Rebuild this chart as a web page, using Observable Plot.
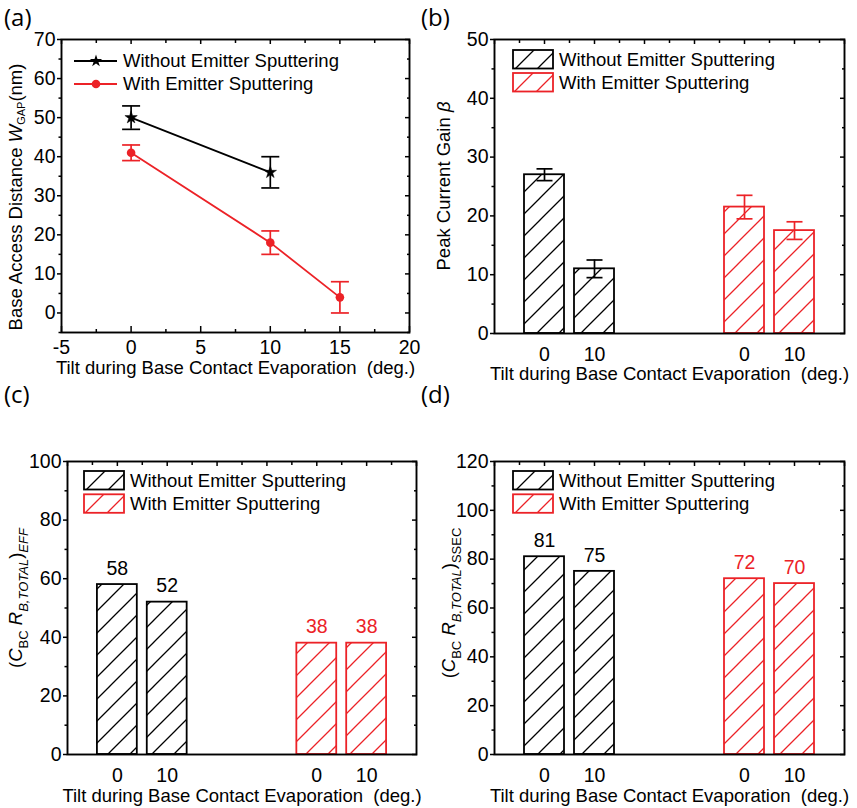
<!DOCTYPE html>
<html><head><meta charset="utf-8">
<script src="https://cdn.jsdelivr.net/npm/d3@7"></script>
<script src="https://cdn.jsdelivr.net/npm/@observablehq/plot@0.6"></script>
<style>
body{margin:0;background:#fff}
#root{position:relative;width:857px;height:808px;background:#fff;overflow:hidden}
</style></head><body><div id="root"></div>
<script>
// ---------- data ----------
const series = ["Without Emitter Sputtering", "With Emitter Sputtering"];
const seriesColors = ["#000000", "#ec2227"];
const panelLabels = ["(a)", "(b)", "(c)", "(d)"];
const xTitle = "Tilt during Base Contact Evaporation\u00a0 (deg.)";

// (a) base access distance
const tiltA_without = [0, 10];
const wgap_without = [50, 36];
const wgapErr_without = [3, 4];
const tiltA_with = [0, 10, 15];
const wgap_with = [41, 18, 4];
const wgapErr_with = [2, 3, 4];

// (b)-(d) bars
const tiltLabels = [0, 10];
const gain_without = [27, 11];
const gainErr_without = [1, 1.5];
const gain_with = [21.5, 17.5];
const gainErr_with = [2, 1.5];
const eff_without = [58, 52];
const eff_with = [38, 38];
const ssec_without = [81, 75];
const ssec_with = [72, 70];

// ---------- helpers ----------
const FONT = '"Liberation Sans", Arial, Helvetica, sans-serif';
const FS = 18.5;
const TFS = 19.5;
const root = document.getElementById("root");
function place(el, left, top) {
  el.style.position = "absolute"; el.style.left = left + "px"; el.style.top = top + "px";
  root.appendChild(el); return el;
}
const capSymbol = { draw(ctx, size) { const h = Math.sqrt(size / Math.PI); ctx.moveTo(-h, 0); ctx.lineTo(h, 0); } };
const none = () => "";

function frameAxes({xMajor, xMinor, yMajor, yMinor, bottomTicks}) {
  const sw = 1.5;
  const m = [
    Plot.axisY({anchor: "left", ticks: yMajor, tickSize: 4, tickPadding: 2, label: null, strokeWidth: sw, fontSize: TFS, tickFormat: d => String(d)}),
    Plot.axisY({anchor: "left", ticks: yMinor, tickSize: 2.5, tickFormat: none, label: null, strokeWidth: sw}),
    Plot.axisY({anchor: "right", ticks: yMajor, tickSize: -5, tickFormat: none, label: null, strokeWidth: sw}),
    Plot.axisY({anchor: "right", ticks: yMinor, tickSize: -3, tickFormat: none, label: null, strokeWidth: sw}),
    Plot.axisX({anchor: "top", ticks: xMajor, tickSize: -4, tickFormat: none, label: null, strokeWidth: sw}),
    Plot.axisX({anchor: "top", ticks: xMinor, tickSize: -3, tickFormat: none, label: null, strokeWidth: sw})
  ];
  if (bottomTicks) {
    m.push(
      Plot.axisX({anchor: "bottom", ticks: xMajor, tickSize: -6, tickFormat: none, label: null, strokeWidth: sw}),
      Plot.axisX({anchor: "bottom", ticks: xMinor, tickSize: -3, tickFormat: none, label: null, strokeWidth: sw}),
      Plot.axisX({anchor: "bottom", ticks: xMajor, tickSize: 0, tickPadding: 8, label: null, fontSize: TFS, tickFormat: d => String(d)})
    );
  }
  return m;
}

function addHatch(svg, id) {
  const defs = d3.select(svg).insert("defs", ":first-child");
  seriesColors.forEach((c, i) => {
    const p = defs.append("pattern").attr("id", `hatch-${id}-${i}`)
      .attr("patternUnits", "userSpaceOnUse").attr("width", 22).attr("height", 22);
    p.append("path").attr("d", "M-3,3L3,-3M0,22L22,0M19,25L25,19")
      .attr("stroke", c).attr("stroke-width", 1.3).attr("fill", "none");
  });
}

function yTitle(svg, x, y, parts) {
  const t = d3.select(svg).append("text")
    .attr("transform", `translate(${x},${y}) rotate(-90)`)
    .attr("text-anchor", "middle").attr("font-size", FS).attr("fill", "#000");
  parts.forEach(p => {
    const s = t.append("tspan").text(p.t);
    if (p.i) s.attr("font-style", "italic");
    if (p.fs) s.attr("font-size", p.fs);
    if (p.dy) s.attr("dy", p.dy);
  });
}

function hatchLegend(svg, id, x, y0, dy) {
  const g = d3.select(svg).append("g").attr("font-size", FS).attr("text-anchor", "start");
  series.forEach((s, i) => {
    g.append("rect").attr("x", x).attr("y", y0 + i * dy).attr("width", 40).attr("height", 18.5)
      .attr("fill", `url(#hatch-${id}-${i})`).attr("stroke", seriesColors[i]).attr("stroke-width", 1.8);
    g.append("text").attr("x", x + 46).attr("y", y0 + i * dy + 9.25).attr("dy", "0.35em").attr("fill", "#000").text(s);
  });
}

const baseStyle = {fontFamily: FONT, fontSize: FS + "px", color: "#000", background: "transparent", overflow: "visible"};

// ---------- panel (a) ----------
const ptsA = [
  ...tiltA_without.map((t, i) => ({series: series[0], x: t, y: wgap_without[i], err: wgapErr_without[i]})),
  ...tiltA_with.map((t, i) => ({series: series[1], x: t, y: wgap_with[i], err: wgapErr_with[i]}))
];
{
  const marks = [];
  series.forEach((s, g) => {
    const r = ptsA.filter(d => d.series === s);
    const c = seriesColors[g];
    marks.push(Plot.line(r, {x: "x", y: "y", stroke: c, strokeWidth: 1.8}));
    marks.push(Plot.ruleX(r, {x: "x", y1: d => d.y - d.err, y2: d => d.y + d.err, stroke: c, strokeWidth: 1.7}));
    marks.push(Plot.dot(r, {x: "x", y: d => d.y - d.err, symbol: capSymbol, r: 9, fill: "none", stroke: c, strokeWidth: 1.7}));
    marks.push(Plot.dot(r, {x: "x", y: d => d.y + d.err, symbol: capSymbol, r: 9, fill: "none", stroke: c, strokeWidth: 1.7}));
    marks.push(Plot.dot(r, g === 0
      ? {x: "x", y: "y", symbol: "star", r: 3.9, fill: c, stroke: c, strokeWidth: 0.5}
      : {x: "x", y: "y", symbol: "circle", r: 4.3, fill: c, stroke: "none"}));
  });
  marks.push(...frameAxes({xMajor: d3.range(-5, 21, 5), xMinor: d3.range(-2.5, 20, 5), yMajor: d3.range(0, 71, 10), yMinor: d3.range(-5, 70, 10), bottomTicks: true}));
  marks.push(Plot.text([xTitle], {text: d => d, frameAnchor: "bottom", dy: 28, lineAnchor: "top"}));
  marks.push(Plot.frame({stroke: "#000", strokeWidth: 1.9}));
  const svg = Plot.plot({
    width: 430, height: 400, marginLeft: 61, marginRight: 21, marginTop: 39, marginBottom: 68,
    x: {domain: [-5, 20]}, y: {domain: [-5, 70]},
    style: baseStyle, marks
  });
  place(svg, 0, 0);
  yTitle(svg, 22, 197, [{t: "Base Access Distance "}, {t: "W", i: true}, {t: "GAP", fs: 11, dy: 3}, {t: "(nm)", dy: -3}]);
  const lg = d3.select(svg).append("g").attr("font-size", FS).attr("text-anchor", "start");
  series.forEach((s, i) => {
    const y = 61 + i * 23;
    lg.append("line").attr("x1", 74).attr("x2", 117).attr("y1", y).attr("y2", y).attr("stroke", seriesColors[i]).attr("stroke-width", 1.8);
    lg.append("path").attr("transform", `translate(96,${y})`)
      .attr("d", d3.symbol(i === 0 ? d3.symbolStar : d3.symbolCircle, Math.PI * (i === 0 ? 3.9 * 3.9 : 4.3 * 4.3))())
      .attr("fill", seriesColors[i]);
    lg.append("text").attr("x", 123).attr("y", y).attr("dy", "0.35em").attr("fill", "#000").text(s);
  });
}

// ---------- bar panels ----------
function barRows(vals, errs) {
  return series.flatMap((s, g) => tiltLabels.map((t, i) => ({
    series: s, group: g, tilt: t, slot: g * 4 + i + 1, value: vals[g][i], err: errs ? errs[g][i] : null
  })));
}

function barPanel({id, rows, yDomain, yMajor, yMinor, errors, valueLabels, left, top, w, h, m, titleDy}) {
  const marks = [];
  series.forEach((s, g) => {
    const r = rows.filter(d => d.group === g);
    const c = seriesColors[g];
    marks.push(Plot.rect(r, {x1: d => d.slot - 0.4, x2: d => d.slot + 0.4, y1: 0, y2: "value",
      fill: `url(#hatch-${id}-${g})`, stroke: c, strokeWidth: 1.8}));
    if (errors) {
      marks.push(Plot.ruleX(r, {x: "slot", y1: d => d.value - d.err, y2: d => d.value + d.err, stroke: c, strokeWidth: 1.7}));
      marks.push(Plot.dot(r, {x: "slot", y: d => d.value - d.err, symbol: capSymbol, r: 8, fill: "none", stroke: c, strokeWidth: 1.7}));
      marks.push(Plot.dot(r, {x: "slot", y: d => d.value + d.err, symbol: capSymbol, r: 8, fill: "none", stroke: c, strokeWidth: 1.7}));
    }
    if (valueLabels) marks.push(Plot.text(r, {x: "slot", y: "value", text: d => String(d.value), dy: -16, fill: c, fontSize: TFS}));
  });
  marks.push(Plot.text(rows, {x: "slot", text: d => String(d.tilt), frameAnchor: "bottom", dy: 14, lineAnchor: "top", fontSize: TFS}));
  marks.push(...frameAxes({xMajor: d3.range(0, 8, 1), xMinor: d3.range(0.5, 7, 1), yMajor, yMinor, bottomTicks: false}));
  marks.push(Plot.text([xTitle], {text: d => d, frameAnchor: "bottom", dy: titleDy, lineAnchor: "top"}));
  marks.push(Plot.frame({stroke: "#000", strokeWidth: 1.9}));
  const svg = Plot.plot({
    width: w, height: h, marginLeft: m[0], marginRight: m[1], marginTop: m[2], marginBottom: m[3],
    x: {domain: [0, 7]}, y: {domain: yDomain},
    style: baseStyle, marks
  });
  addHatch(svg, id);
  place(svg, left, top);
  return svg;
}

// (b)
{
  const svg = barPanel({id: "b", rows: barRows([gain_without, gain_with], [gainErr_without, gainErr_with]),
    yDomain: [0, 50], yMajor: d3.range(0, 51, 10), yMinor: d3.range(5, 50, 10), errors: true, valueLabels: false,
    left: 430, top: 0, w: 427, h: 400, m: [64, 13, 39, 67], titleDy: 33});
  yTitle(svg, 20, 186, [{t: "Peak Current Gain "}, {t: "β", i: true}]);
  hatchLegend(svg, "b", 83, 50, 23);
}
// (c)
{
  const svg = barPanel({id: "c", rows: barRows([eff_without, eff_with]),
    yDomain: [0, 100], yMajor: d3.range(0, 101, 20), yMinor: d3.range(10, 100, 20), errors: false, valueLabels: true,
    left: 0, top: 400, w: 430, h: 408, m: [67, 14, 61, 54], titleDy: 34});
  yTitle(svg, 22, 198, [{t: "("}, {t: "C", i: true}, {t: "BC", fs: 13, dy: 6}, {t: " "}, {t: "R", i: true, dy: -6},
    {t: "B,TOTAL", i: true, fs: 13, dy: 6}, {t: ")", dy: -6}, {t: "EFF", i: true, fs: 13, dy: 6}]);
  hatchLegend(svg, "c", 84, 71, 23.3);
}
// (d)
{
  const svg = barPanel({id: "d", rows: barRows([ssec_without, ssec_with]),
    yDomain: [0, 120], yMajor: d3.range(0, 121, 20), yMinor: d3.range(10, 120, 20), errors: false, valueLabels: true,
    left: 430, top: 400, w: 427, h: 408, m: [64, 13, 61, 54], titleDy: 34});
  yTitle(svg, 25, 203, [{t: "("}, {t: "C", i: true}, {t: "BC", fs: 13, dy: 6}, {t: " "}, {t: "R", i: true, dy: -6},
    {t: "B,TOTAL", i: true, fs: 13, dy: 6}, {t: ")", dy: -6}, {t: "SSEC", fs: 13, dy: 6}]);
  hatchLegend(svg, "d", 83, 71, 23.3);
}

// ---------- panel letters ----------
const ov = d3.create("svg").attr("width", 857).attr("height", 808).style("pointer-events", "none");
const labelPos = [[4, 26], [421, 26], [4, 403], [421, 403]];
panelLabels.forEach((l, i) => {
  ov.append("text").attr("x", labelPos[i][0]).attr("y", labelPos[i][1])
    .attr("font-family", '"Open Sans", sans-serif').attr("font-size", 24).attr("fill", "#000").text(l);
});
place(ov.node(), 0, 0);
</script></body></html>
